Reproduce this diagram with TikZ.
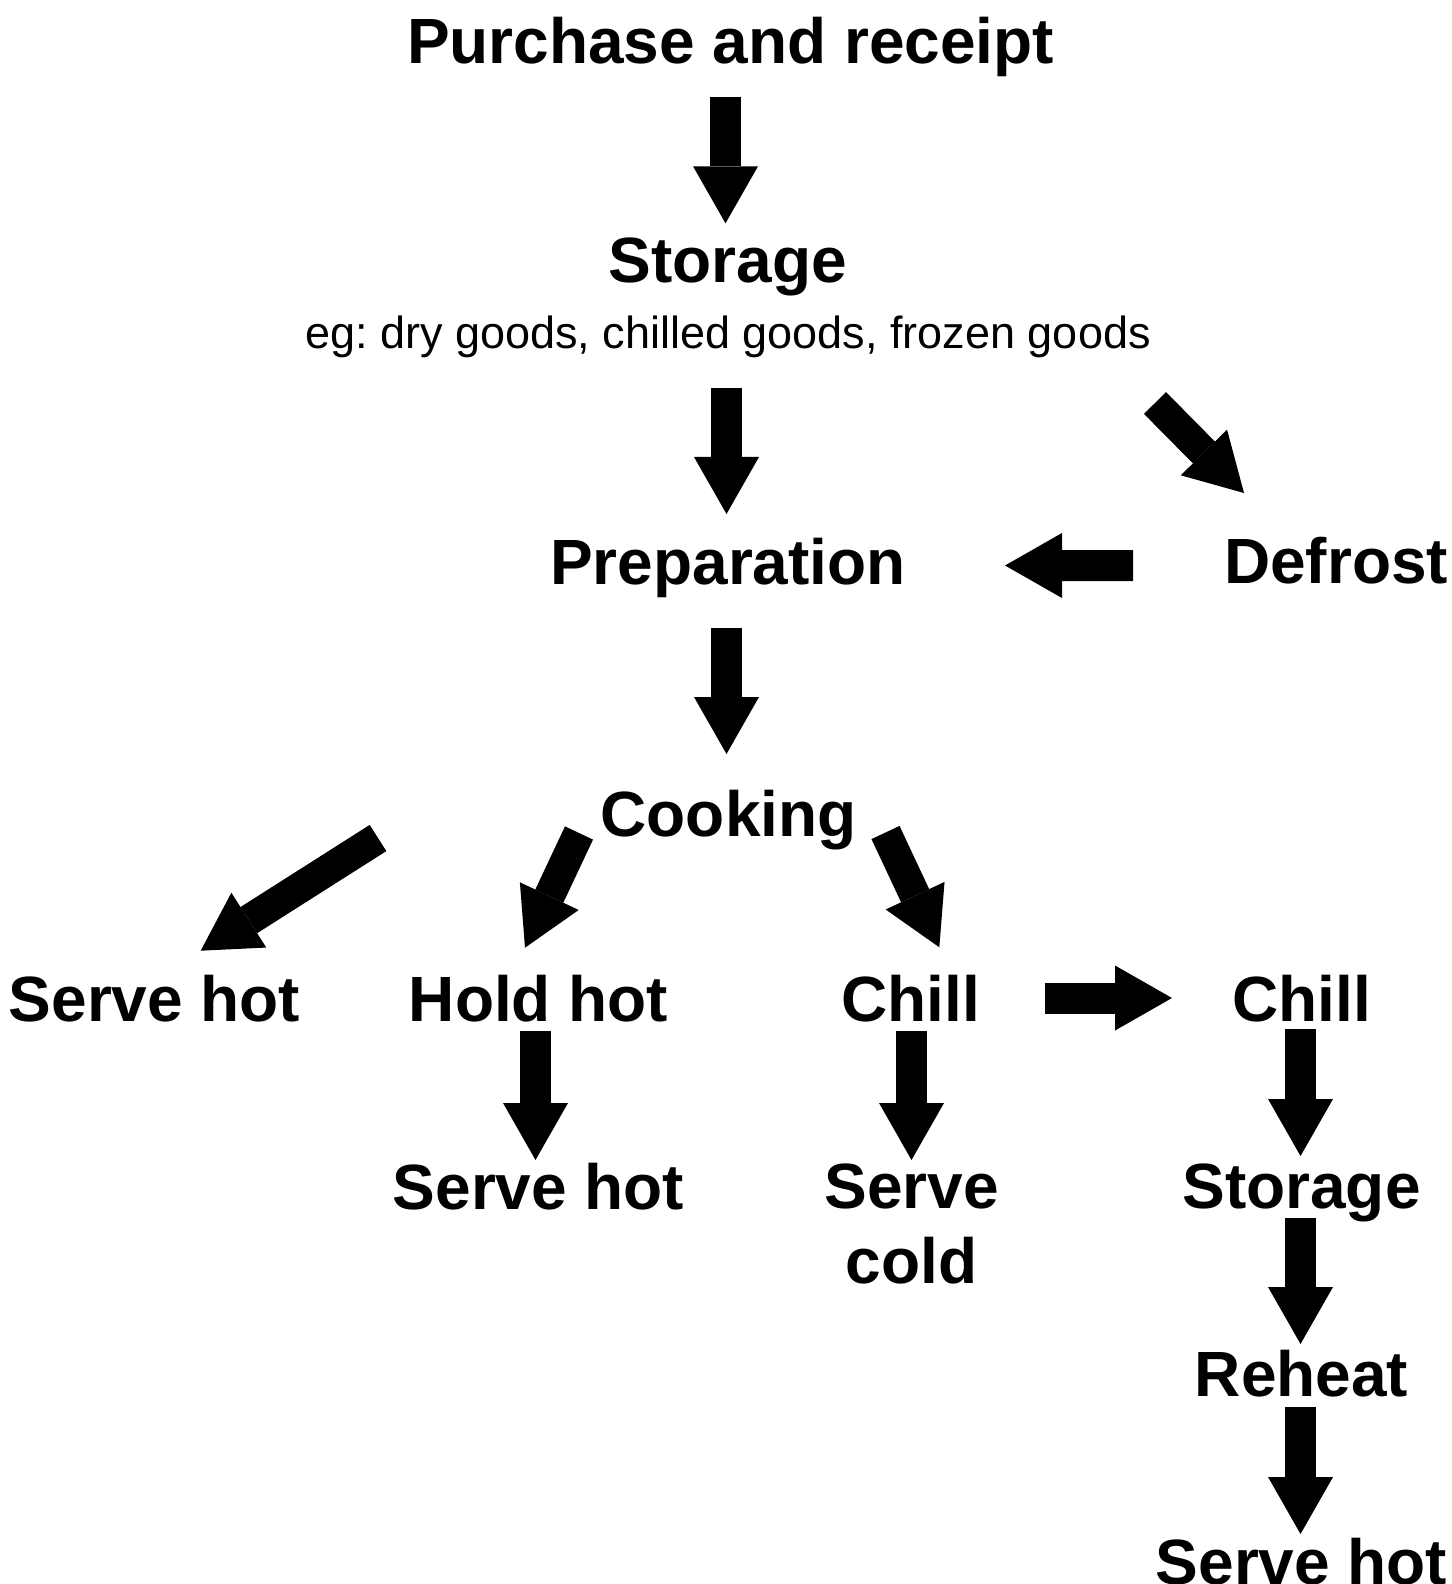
\documentclass[tikz,border=0pt]{standalone}
\usepackage{fontspec}
\setmainfont{Liberation Sans}
\frenchspacing
\usetikzlibrary{calc,arrows.meta}
\def\drawflow{\draw[line width=3.1mm,-{Triangle[width=6.5mm,length=5.7mm,line width=0pt]}]}
\def\stagenode{\node[font=\bfseries\fontsize{18.2}{21.3}\selectfont,inner sep=0pt,anchor=base]}

\begin{document}
\begin{tikzpicture}[x=0.1mm,y=-0.1mm]
\useasboundingbox (0,0) rectangle (1451,1584);

% ---------- the stages
\stagenode (purchase) at (730.6,63.5) {Purchase and receipt};
\stagenode (storage) at (727.6,283) {Storage};
\node[font=\fontsize{12.8}{15}\selectfont,inner sep=0pt,anchor=base] (goods) at (728,349) {eg: dry goods, chilled goods, frozen goods};
\stagenode (prep) at (728,584.5) {Preparation};
\stagenode (defrost) at (1336,584) {Defrost};
\stagenode (cooking) at (728.6,836) {Cooking};
\stagenode (servehotL) at (154.6,1021.7) {Serve hot};
\stagenode (holdhot) at (538.6,1021.7) {Hold hot};
\stagenode (chill) at (910.5,1021.7) {Chill};
\stagenode (chillR) at (1301.5,1021.7) {Chill};
\stagenode (servehot) at (538.6,1209) {Serve hot};
\stagenode (servecold) [align=center] at (911.5,1283) {Serve\\cold}; % base is the last line
\stagenode (storageR) at (1301.5,1208) {Storage};
\stagenode (reheat) at (1301.5,1396) {Reheat};
\stagenode (servehotR) at (1301.5,1584) {Serve hot};

% ---------- main line down to cooking
\drawflow ($ (purchase.base) + (-5.1,33.2) $) -- ($ (storage.base) + (-2.1,-59.7) $);
\drawflow ($ (goods.base) + (-1.5,39) $) -- ($ (prep.base) + (-1.5,-70.5) $);
\drawflow ($ (goods.base) + (427,54) $) -- ($ (defrost.base) + (-92,-91) $); % frozen goods
\drawflow ($ (defrost.base) + (-203,-18.5) $) -- ($ (prep.base) + (277,-19) $);
\drawflow ($ (prep.base) + (-1.5,43) $) -- ($ (cooking.base) + (-2.1,-82) $);

% ---------- out of cooking
\drawflow ($ (cooking.base) + (-350.6,2) $) -- ($ (servehotL.base) + (46.1,-71) $);
\drawflow ($ (cooking.base) + (-149.6,-3) $) -- ($ (holdhot.base) + (-13.6,-74) $);
\drawflow ($ (cooking.base) + (156.9,-3.5) $) -- ($ (chill.base) + (28.8,-74.4) $);
\drawflow ($ (chill.base) + (134.5,-23.7) $) -- ($ (chillR.base) + (-129.5,-23.7) $);
\drawflow ($ (holdhot.base) + (-3.1,9.3) $) -- ($ (servehot.base) + (-3.1,-49) $);
\drawflow ($ (chill.base) + (1,9.3) $) -- ($ (servecold.base) + (0,-123) $);

% ---------- cook-chill line
\drawflow ($ (chillR.base) + (-1,7.3) $) -- ($ (storageR.base) + (-1,-52) $);
\drawflow ($ (storageR.base) + (-1,9.7) $) -- ($ (reheat.base) + (-1,-52) $);
\drawflow ($ (reheat.base) + (-1,11) $) -- ($ (servehotR.base) + (-1,-50) $);
\end{tikzpicture}
\end{document}
